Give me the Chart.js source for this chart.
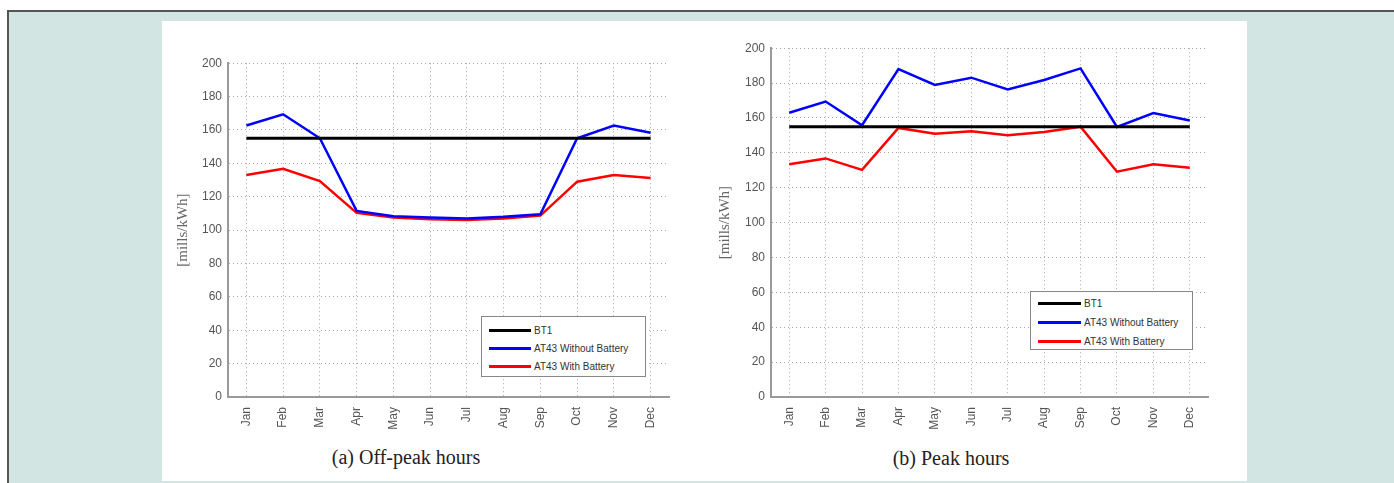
<!DOCTYPE html>
<html>
<head>
<meta charset="utf-8">
<script src="https://cdn.jsdelivr.net/npm/chart.js@4.4.1/dist/chart.umd.min.js"></script>
<style>
  html, body { margin: 0; padding: 0; background: #fff; }
  body { width: 1394px; height: 483px; position: relative; overflow: hidden; }
  .frame {
    position: absolute; left: 7px; top: 10px; right: -4px; bottom: -4px;
    border-top: 2px solid #555; border-left: 2px solid #555;
    background: #d3e5e3;
  }
  .panel { position: absolute; left: 162px; top: 21px; width: 1085px; height: 460px; background: #fff; }
  .chart-box { position: absolute; }
  .caption {
    position: absolute; font-family: 'Liberation Serif', 'DejaVu Serif', serif;
    font-size: 20px; color: #222; transform: translateX(-50%); white-space: nowrap;
  }
  .legend {
    position: absolute; background: #fff; border: 1px solid #888;
    font-family: 'Liberation Sans', Arial, sans-serif; font-size: 10px; color: #333;
  }
  .legend .row { position: absolute; left: 0; height: 12px; display: flex; align-items: center; white-space: nowrap; }
  .legend .swatch { display: inline-block; height: 3px; margin-right: 3px; }
</style>
</head>
<body>
<div class="frame"></div>
<div class="panel"></div>

<div class="chart-box" style="left:165px; top:50px; width:515px; height:390px;">
  <canvas id="offPeakChart" width="515" height="390"></canvas>
</div>
<div class="chart-box" style="left:715px; top:35px; width:510px; height:405px;">
  <canvas id="peakChart" width="510" height="405"></canvas>
</div>

<div id="offPeakLegend" class="legend" style="left:481px; top:316px; width:163px; height:59px;"></div>
<div id="peakLegend" class="legend" style="left:1030px; top:291px; width:161px; height:57px;"></div>

<div class="caption" style="left:406px; top:446px;">(a) Off-peak hours</div>
<div class="caption" style="left:951px; top:447px;">(b) Peak hours</div>

<script>
// ── Data (mills/kWh) ─────────────────────────────────────────────────────
const months = ['Jan', 'Feb', 'Mar', 'Apr', 'May', 'Jun', 'Jul', 'Aug', 'Sep', 'Oct', 'Nov', 'Dec'];
const seriesNames = ['BT1', 'AT43 Without Battery', 'AT43 With Battery'];
const yTicks = [0, 20, 40, 60, 80, 100, 120, 140, 160, 180, 200];

const offPeakBT1       = [155, 155, 155, 155, 155, 155, 155, 155, 155, 155, 155, 155];
const offPeakNoBattery = [162.7, 169.4, 155, 111.5, 108.3, 107.5, 107, 108, 109.5, 155, 162.7, 158.3];
const offPeakBattery   = [133, 136.7, 129.4, 110.3, 107.5, 106.5, 106, 107, 108.7, 129, 133, 131.2];

const peakBT1          = [155, 155, 155, 155, 155, 155, 155, 155, 155, 155, 155, 155];
const peakNoBattery    = [163, 169.4, 155.8, 188, 178.9, 183.1, 176.3, 181.8, 188.4, 154.8, 162.8, 158.6];
const peakBattery      = [133.4, 136.8, 130.2, 154.3, 151, 152.4, 150.1, 152, 155, 129.2, 133.4, 131.5];

(function() {
  'use strict';

  const BLACK = '#000000';
  const BLUE  = '#0000ff';
  const RED   = '#ff0000';
  const SANS  = "'Liberation Sans', Arial, sans-serif";
  const SERIF = "'Liberation Serif', 'DejaVu Serif', serif";
  const TICK_CLR = '#555';
  const AXIS_CLR = '#9a9a9a';
  const GRID_CLR = '#a8a8a8';

  const seriesColors = [BLACK, BLUE, RED];
  const seriesWidths = [3, 2.5, 2.5];

  function makeDatasets(values) {
    return values.map((data, i) => ({
      label: seriesNames[i],
      data,
      borderColor: seriesColors[i],
      backgroundColor: seriesColors[i],
      borderWidth: seriesWidths[i],
      pointRadius: 0,
      tension: 0,
      fill: false,
    }));
  }

  // ── Shared options, with fixed axis sizes so plot areas line up ─────────
  function makeOptions(yWidth, titleOffset, pad) {
    return {
      responsive: false,
      animation: false,
      layout: { padding: pad },
      plugins: { legend: { display: false }, tooltip: { enabled: false } },
      scales: {
        x: {
          type: 'category',
          offset: true,
          grid: { color: GRID_CLR, lineWidth: 1, drawTicks: false, offset: false },
          border: { display: true, color: AXIS_CLR, width: 2, dash: [1, 3] },
          ticks: {
            color: TICK_CLR, font: { family: SANS, size: 12 },
            minRotation: 90, maxRotation: 90, padding: 10, autoSkip: false,
          },
          afterFit: s => { s.height = 43; },
        },
        y: {
          min: 0, max: 200,
          afterBuildTicks: s => { s.ticks = yTicks.map(v => ({ value: v })); },
          grid: { color: GRID_CLR, lineWidth: 1, drawTicks: false },
          border: { display: true, color: AXIS_CLR, width: 2, dash: [1, 3] },
          ticks: { color: TICK_CLR, font: { family: SANS, size: 12 }, padding: 6 },
          title: {
            display: true, text: '[mills/kWh]', color: '#666',
            font: { family: SERIF, size: 15 }, padding: { top: titleOffset, bottom: 0 },
          },
          afterFit: s => { s.width = yWidth; },
        },
      },
    };
  }

  // ── HTML legend boxes built from the series ─────────────────────────────
  function buildLegend(id, rowTops, swLeft, swWidth) {
    const box = document.getElementById(id);
    seriesNames.forEach((name, i) => {
      const row = document.createElement('div');
      row.className = 'row';
      row.style.top = rowTops[i] + 'px';
      row.style.left = swLeft + 'px';
      const sw = document.createElement('span');
      sw.className = 'swatch';
      sw.style.width = swWidth + 'px';
      sw.style.background = seriesColors[i];
      const txt = document.createElement('span');
      txt.textContent = name;
      row.appendChild(sw);
      row.appendChild(txt);
      box.appendChild(row);
    });
  }

  function initCharts() {
    new Chart(document.getElementById('offPeakChart'), {
      type: 'line',
      data: { labels: months, datasets: makeDatasets([offPeakBT1, offPeakNoBattery, offPeakBattery]) },
      options: makeOptions(63, 9, { top: 11, right: 11, left: 0, bottom: 0 }),
    });

    new Chart(document.getElementById('peakChart'), {
      type: 'line',
      data: { labels: months, datasets: makeDatasets([peakBT1, peakNoBattery, peakBattery]) },
      options: makeOptions(56, 1, { top: 11, right: 17, left: 0, bottom: 0 }),
    });

    buildLegend('offPeakLegend', [7, 25, 43], 7, 42);
    buildLegend('peakLegend', [5, 24, 43], 7, 43);
  }

  initCharts();
})();
</script>
</body>
</html>
